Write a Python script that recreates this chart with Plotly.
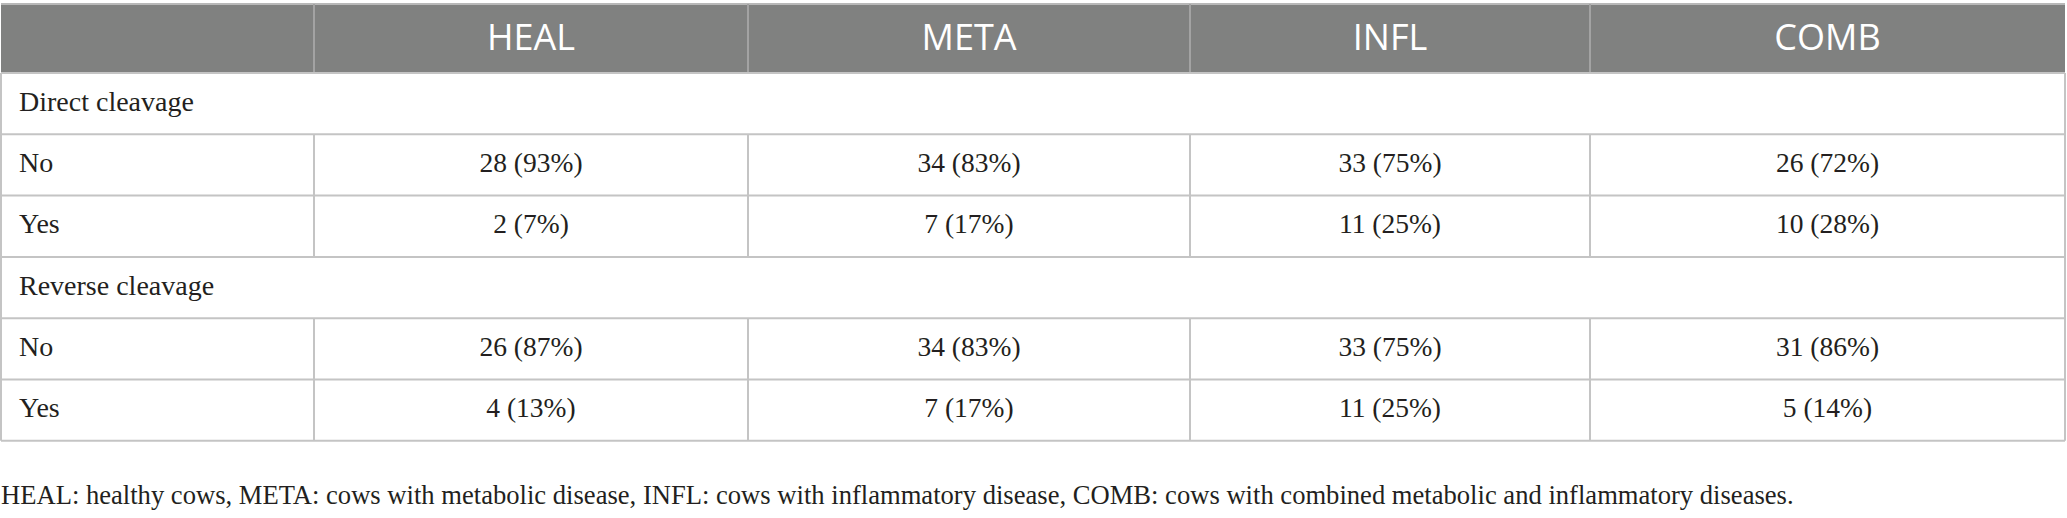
import plotly.graph_objects as go

# ---- data ----
groups = ["HEAL", "META", "INFL", "COMB"]
sections = ["Direct cleavage", "Reverse cleavage"]
levels = ["No", "Yes"]

direct_no_n = [28, 34, 33, 26]
direct_no_pct = [93, 83, 75, 72]
direct_yes_n = [2, 7, 11, 10]
direct_yes_pct = [7, 17, 25, 28]

reverse_no_n = [26, 34, 33, 31]
reverse_no_pct = [87, 83, 75, 86]
reverse_yes_n = [4, 7, 11, 5]
reverse_yes_pct = [13, 17, 25, 14]

footnote = ("HEAL: healthy cows, META: cows with metabolic disease, INFL: cows with "
            "inflammatory disease, COMB: cows with combined metabolic and inflammatory diseases.")

# ---- layout geometry (pixels) ----
W, H = 2067, 518
col_edges = [1, 314, 748, 1190, 1590, 2065]
header_top, header_bot = 4, 73
row_h = 61.3
n_rows = 6
row_edges = [header_bot + i * row_h for i in range(n_rows + 1)]

HEADER_FILL = "#808180"
LINE = "#c4c4c4"
HEADER_SEP = "#a3a3a3"
TEXT = "#231f20"
SERIF = "Liberation Serif, Times New Roman, serif"
SANS = "Open Sans, Noto Sans, sans-serif"

fig = go.Figure()
shapes = []

# header background
shapes.append(dict(type="rect", xref="x", yref="y", x0=col_edges[0], x1=col_edges[-1],
                   y0=header_top, y1=header_bot, fillcolor=HEADER_FILL,
                   line=dict(width=0), layer="below"))
# header top line
shapes.append(dict(type="line", xref="x", yref="y", x0=col_edges[0], x1=col_edges[-1],
                   y0=header_top, y1=header_top, line=dict(color="#b8b8b8", width=2)))
# header vertical separators
for xe in col_edges[1:-1]:
    shapes.append(dict(type="line", xref="x", yref="y", x0=xe, x1=xe,
                       y0=header_top, y1=header_bot, line=dict(color=HEADER_SEP, width=2)))

# horizontal lines
for ye in row_edges:
    shapes.append(dict(type="line", xref="x", yref="y", x0=col_edges[0], x1=col_edges[-1],
                       y0=ye, y1=ye, line=dict(color=LINE, width=2)))

# outer verticals for body
for xe in (col_edges[0], col_edges[-1]):
    shapes.append(dict(type="line", xref="x", yref="y", x0=xe, x1=xe,
                       y0=header_bot, y1=row_edges[-1], line=dict(color=LINE, width=2)))

# inner verticals for data rows (not section rows)
row_kinds = []
for s in sections:
    row_kinds.append(("section", s))
    for lv in levels:
        row_kinds.append(("data", lv))
for i, (kind, _) in enumerate(row_kinds):
    if kind == "data":
        for xe in col_edges[1:-1]:
            shapes.append(dict(type="line", xref="x", yref="y", x0=xe, x1=xe,
                               y0=row_edges[i], y1=row_edges[i + 1],
                               line=dict(color=LINE, width=2)))

col_centers = [(col_edges[i] + col_edges[i + 1]) / 2 for i in range(len(col_edges) - 1)]
row_centers = [(row_edges[i] + row_edges[i + 1]) / 2 for i in range(n_rows)]

# header labels
fig.add_trace(go.Scatter(
    x=col_centers[1:], y=[(header_top + header_bot) / 2 + 2] * len(groups),
    text=groups, mode="text", textposition="middle center", cliponaxis=False,
    textfont=dict(family=SANS, size=36, color="white"),
    hoverinfo="skip", showlegend=False))

# row labels
row_labels = [lab for _, lab in row_kinds]
fig.add_trace(go.Scatter(
    x=[19] * n_rows, y=row_centers, text=row_labels, mode="text",
    textposition="middle right", cliponaxis=False,
    textfont=dict(family=SERIF, size=28, color=TEXT),
    hoverinfo="skip", showlegend=False))

# data cells
table_vals = [
    (direct_no_n, direct_no_pct),
    (direct_yes_n, direct_yes_pct),
    (reverse_no_n, reverse_no_pct),
    (reverse_yes_n, reverse_yes_pct),
]
data_rows = [i for i, (k, _) in enumerate(row_kinds) if k == "data"]
cx, cy, ct = [], [], []
for r, (ns, ps) in zip(data_rows, table_vals):
    for j, (n, p) in enumerate(zip(ns, ps)):
        cx.append(col_centers[j + 1])
        cy.append(row_centers[r])
        ct.append(f"{n} ({p}%)")
fig.add_trace(go.Scatter(
    x=cx, y=cy, text=ct, mode="text", textposition="middle center", cliponaxis=False,
    textfont=dict(family=SERIF, size=27.5, color=TEXT),
    hoverinfo="skip", showlegend=False))

# footnote
fig.add_trace(go.Scatter(
    x=[1], y=[497], text=[footnote], mode="text", textposition="middle right",
    cliponaxis=False,
    textfont=dict(family=SERIF, size=26.6, color=TEXT),
    hoverinfo="skip", showlegend=False))

fig.update_layout(
    width=W, height=H,
    margin=dict(l=0, r=0, t=0, b=0),
    paper_bgcolor="white", plot_bgcolor="white",
    shapes=shapes,
    xaxis=dict(range=[0, W], visible=False, fixedrange=True),
    yaxis=dict(range=[H, 0], visible=False, fixedrange=True),
)

fig.write_html(
    "out.html",
    config={"displayModeBar": False, "staticPlot": True},
    post_script="document.body.style.margin='0';document.body.style.overflow='hidden';",
)
